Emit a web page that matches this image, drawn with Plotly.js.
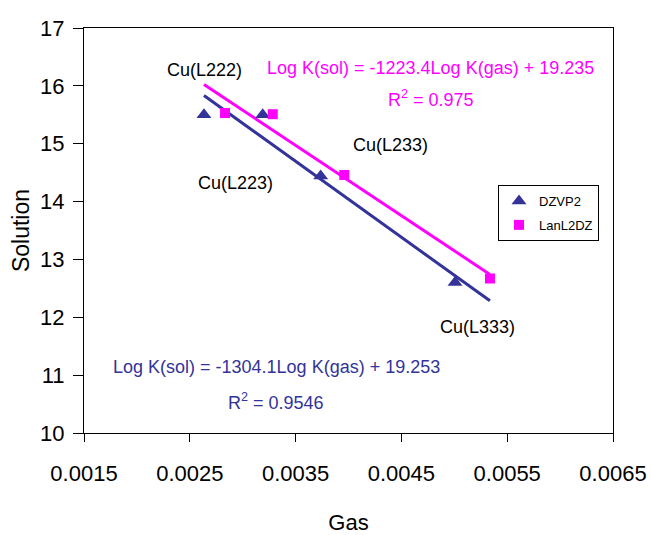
<!DOCTYPE html>
<html>
<head>
<meta charset="utf-8">
<script src="https://cdn.plot.ly/plotly-3.0.1.min.js"></script>
<style>html,body{margin:0;padding:0;background:#fff;}#chart{width:651px;height:535px;}</style>
</head>
<body>
<div id="chart"></div>
<script>
// Data
const dzvp2Gas = [0.002634, 0.003189, 0.003737, 0.005007];
const dzvp2Sol = [15.50, 15.50, 14.44, 12.60];
const lanl2dzGas = [0.002833, 0.003284, 0.003960, 0.005337];
const lanl2dzSol = [15.53, 15.51, 14.46, 12.67];
const seriesNames = ['DZVP2', 'LanL2DZ'];
const pointLabels = ['Cu(L222)', 'Cu(L223)', 'Cu(L233)', 'Cu(L333)'];
const eqTexts = ['Log K(sol) = -1304.1Log K(gas) + 19.253', 'Log K(sol) = -1223.4Log K(gas) + 19.235'];
const r2Texts = ['R<sup>2</sup> = 0.9546', 'R<sup>2</sup> = 0.975'];
const xTicks = [0.0015, 0.0025, 0.0035, 0.0045, 0.0055, 0.0065];
const xTickLabels = ['0.0015', '0.0025', '0.0035', '0.0045', '0.0055', '0.0065'];
const yTicks = [10, 11, 12, 13, 14, 15, 16, 17];

const BLUE = '#333399', PINK = '#FF00FF';
const FONT = "'Liberation Sans', Arial, sans-serif";

function linfit(xs, ys) {
  const n = xs.length;
  const mx = xs.reduce((a, b) => a + b, 0) / n;
  const my = ys.reduce((a, b) => a + b, 0) / n;
  let sxy = 0, sxx = 0;
  for (let i = 0; i < n; i++) { sxy += (xs[i] - mx) * (ys[i] - my); sxx += (xs[i] - mx) ** 2; }
  const m = sxy / sxx;
  return { m: m, b: my - m * mx };
}
const allX = dzvp2Gas.concat(lanl2dzGas);
const xLo = Math.min(...allX), xHi = Math.max(...allX);
const fB = linfit(dzvp2Gas, dzvp2Sol), fP = linfit(lanl2dzGas, lanl2dzSol);

const traces = [
  { x: [xLo, xHi], y: [fB.m * xLo + fB.b, fB.m * xHi + fB.b], mode: 'lines', line: { color: BLUE, width: 3 }, showlegend: false, hoverinfo: 'skip' },
  { x: [xLo, xHi], y: [fP.m * xLo + fP.b, fP.m * xHi + fP.b], mode: 'lines', line: { color: PINK, width: 3 }, showlegend: false, hoverinfo: 'skip' },
  { x: dzvp2Gas, y: dzvp2Sol, name: seriesNames[0], legendgroup: 'a', mode: 'markers', marker: { symbol: 'triangle-up', size: 13, color: BLUE } },
  { x: lanl2dzGas, y: lanl2dzSol, name: seriesNames[1], legendgroup: 'b', mode: 'markers', marker: { symbol: 'square', size: 10, color: PINK } }
];

function px2paper(px, py) { return { x: (px - 84) / 529, y: (433 - py) / 405 }; }
function ann(text, px, py, color, anchor) {
  const p = px2paper(px, py);
  return { text: text, x: p.x, y: p.y, xref: 'paper', yref: 'paper', showarrow: false,
    xanchor: anchor || 'center', yanchor: 'middle', font: { family: FONT, size: 18, color: color } };
}

const layout = {
  width: 651, height: 535,
  margin: { l: 84, r: 38, t: 28, b: 102 },
  paper_bgcolor: '#fff', plot_bgcolor: '#fff',
  font: { family: FONT, color: '#000' },
  showlegend: true,
  legend: { x: (498 - 84) / 529, y: (433 - 185) / 405, xanchor: 'left', yanchor: 'top',
    bordercolor: '#000', borderwidth: 1, bgcolor: '#fff', tracegroupgap: 4, itemwidth: 30,
    font: { family: FONT, size: 13, color: '#000' } },
  xaxis: {
    range: [0.0015, 0.0065], tickvals: xTicks, ticktext: xTickLabels,
    showline: true, linecolor: '#000', linewidth: 1, mirror: true,
    ticks: 'outside', ticklen: 8, tickcolor: '#000', ticklabelstandoff: 13,
    showgrid: false, zeroline: false,
    tickfont: { family: FONT, size: 22, color: '#000' },
    title: { text: 'Gas', font: { family: FONT, size: 22, color: '#000' }, standoff: 31 }
  },
  yaxis: {
    range: [10, 17], tickvals: yTicks,
    showline: true, linecolor: '#000', linewidth: 1, mirror: true,
    ticks: 'outside', ticklen: 10, tickcolor: '#000', ticklabelstandoff: 4,
    showgrid: false, zeroline: false,
    tickfont: { family: FONT, size: 22, color: '#000' },
    title: { text: 'Solution', font: { family: FONT, size: 23, color: '#000' }, standoff: 4 }
  },
  annotations: [
    ann(pointLabels[0], 204.5, 70, '#000'),
    ann(pointLabels[1], 235, 183, '#000'),
    ann(pointLabels[2], 390, 145, '#000'),
    ann(pointLabels[3], 477, 327, '#000'),
    ann(eqTexts[1], 265, 68, PINK, 'left'),
    ann(r2Texts[1], 431, 98, PINK),
    ann(eqTexts[0], 276, 367, BLUE),
    ann(r2Texts[0], 276, 401, BLUE)
  ]
};

Plotly.newPlot('chart', traces, layout, { staticPlot: true, displayModeBar: false });
</script>
</body>
</html>
